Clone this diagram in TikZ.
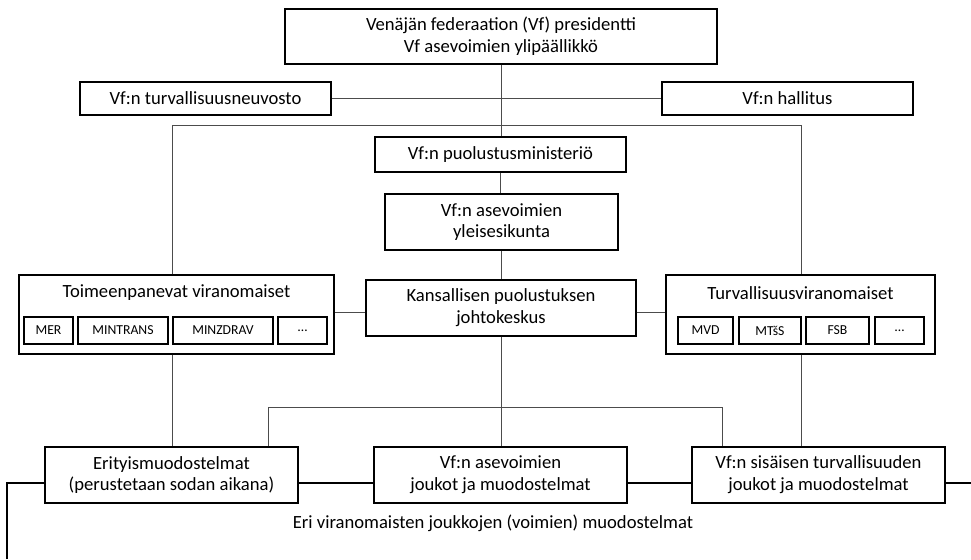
\documentclass[tikz,border=0pt]{standalone}
\usepackage{fontspec}
\setmainfont{Carlito}
\usetikzlibrary{calc}

\begin{document}
\begin{tikzpicture}[
  x=0.02cm, y=-0.02cm,
  box/.style={draw, line width=0.8pt, inner sep=0pt, align=center, font=\fontsize{10.6}{12.4}\selectfont},
  subbox/.style={draw, line width=0.8pt, inner sep=0pt, minimum height=27*0.02cm, font=\fontsize{7.8}{9}\selectfont},
  link/.style={black!70, line width=0.55pt},
  bus/.style={black, line width=1.2pt}
]
  \useasboundingbox (0,0) rectangle (971,559);

  % Top level
  \node[box, minimum width=432*0.02cm, minimum height=55*0.02cm] (pres) at (501,36.5)
    {Venäjän federaation (Vf) presidentti\\Vf asevoimien ylipäällikkö};
  \node[box, minimum width=251*0.02cm, minimum height=33*0.02cm] (council) at (205.5,98.5) {Vf:n turvallisuusneuvosto};
  \node[box, minimum width=251*0.02cm, minimum height=33*0.02cm] (govt) at (787.5,98.5) {Vf:n hallitus};
  \node[box, minimum width=251*0.02cm, minimum height=35*0.02cm] (mod) at (500.5,154.5) {Vf:n puolustusministeriö};
  \node[box, minimum width=233*0.02cm, minimum height=56*0.02cm] (genstaff) at (501.5,222) {Vf:n asevoimien\\yleisesikunta};

  % Authorities
  \node[box, minimum width=315*0.02cm, minimum height=79*0.02cm] (exec) at (176.5,314.5) {};
  \node[font=\fontsize{10.6}{12.4}\selectfont] (exectitle) at (176.5,293) {Toimeenpanevat viranomaiset};
  \foreach \n/\x/\w/\t in {1/48.5/49/MER, 2/123/90/MINTRANS, 3/223/100/MINZDRAV, 4/302.5/49/\ldots} {
    \node[subbox, minimum width=\w*0.02cm] (ex\n) at (\x,330.5) {\t};
  }
  \node[box, minimum width=270*0.02cm, minimum height=56*0.02cm] (ncc) at (501,308) {Kansallisen puolustuksen\\johtokeskus};
  \node[box, minimum width=269*0.02cm, minimum height=79*0.02cm] (sec) at (800.5,314.5) {};
  \node[font=\fontsize{10.6}{12.4}\selectfont] (sectitle) at (800.5,293) {Turvallisuusviranomaiset};
  \foreach \n/\x/\w/\t in {1/705.5/55/MVD, 2/770/62/MTšS, 3/837.5/63/FSB, 4/899.5/49/\ldots} {
    \node[subbox, minimum width=\w*0.02cm] (sx\n) at (\x,330.5) {\t};
  }

  % Forces
  \node[box, minimum width=253*0.02cm, minimum height=56*0.02cm] (special) at (171.5,475) {Erityismuodostelmat\\(perustetaan sodan aikana)};
  \node[box, minimum width=253*0.02cm, minimum height=56*0.02cm] (forces) at (500.5,475) {Vf:n asevoimien\\joukot ja muodostelmat};
  \node[box, minimum width=253*0.02cm, minimum height=56*0.02cm] (internal) at (818.5,475) {Vf:n sisäisen turvallisuuden\\joukot ja muodostelmat};
  \node[font=\fontsize{10.6}{12.4}\selectfont] (busname) at (493,523) {Eri viranomaisten joukkojen (voimien) muodostelmat};

  % Links
  \coordinate (tl) at (172,125);
  \coordinate (tr) at (801,125);
  \coordinate (bl) at (268,407);
  \coordinate (br) at (722,407);
  \draw[link] (pres.south) -- (pres.south |- mod.north);
  \draw[link] (council) -- (govt);
  \draw[link] (exec.north -| tl) -- (tl) -- (tr) -- (sec.north -| tr);
  \draw[link] (mod.south) -- (mod.south |- genstaff.north);
  \draw[link] (genstaff.south) -- (genstaff.south |- ncc.north);
  \draw[link] (exec.east |- 0,312) -- (ncc.west |- 0,312);
  \draw[link] (ncc.east |- 0,312) -- (sec.west |- 0,312);
  \draw[link] (exec.south -| tl) -- (special.north -| tl);
  \draw[link] (sec.south -| tr) -- (internal.north -| tr);
  \draw[link] (ncc.south) -- (ncc.south |- forces.north);
  \draw[link] (special.north -| bl) -- (bl) -- (br) -- (internal.north -| br);

  % Bus
  \coordinate (busL) at (7,559);
  \coordinate (busR) at (971,483);
  \draw[bus] (busL) |- (special.west |- busR);
  \draw[bus] (special.east |- busR) -- (forces.west |- busR);
  \draw[bus] (forces.east |- busR) -- (internal.west |- busR);
  \draw[bus] (internal.east |- busR) -- (busR);
\end{tikzpicture}
\end{document}
